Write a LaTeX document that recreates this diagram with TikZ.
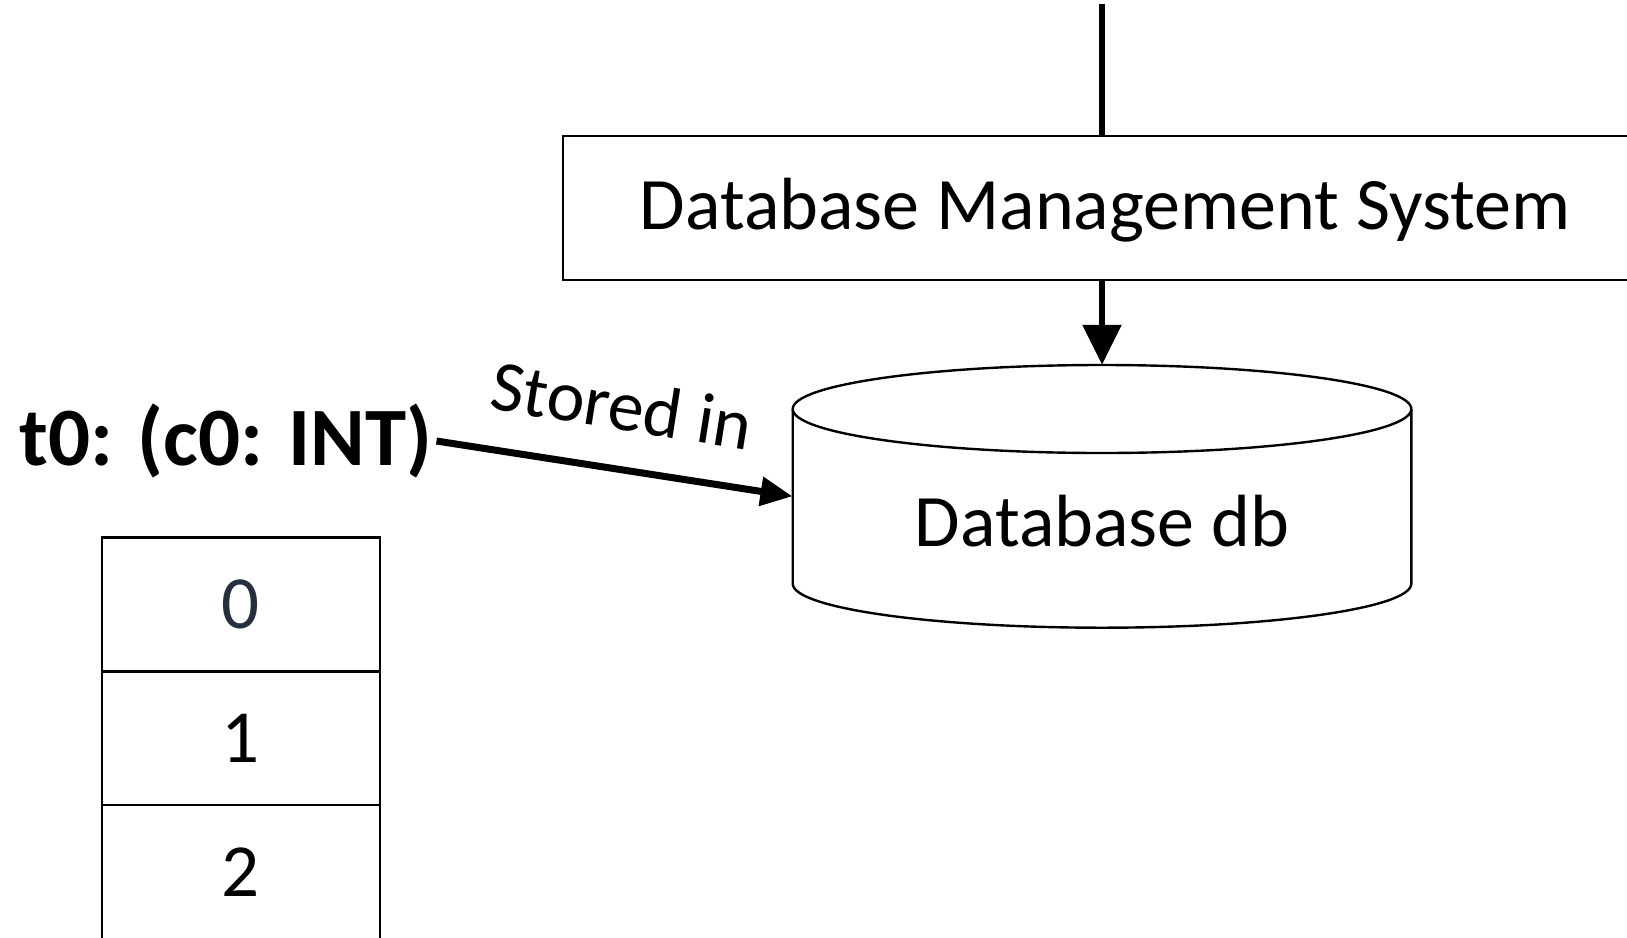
\documentclass[tikz,border=0pt]{standalone}
\usepackage{fontspec}
\setmainfont{Carlito}
\usetikzlibrary{arrows.meta}
\definecolor{digitslate}{RGB}{38,47,61}
\begin{document}
\begin{tikzpicture}[x=1pt,y=-1pt,
  frame/.style={draw, line width=2.4pt, inner sep=0pt},
  cell/.style={frame, minimum width=278pt, minimum height=133.8pt,
    font=\fontsize{75}{90}\selectfont},
  stem/.style={line width=6pt},
  flow/.style={line width=6pt, -{Triangle[length=40pt,width=38pt]}},
  storeflow/.style={line width=7pt, -{Triangle[length=32pt,width=28pt]}},
  label/.style={font=\fontsize{74}{88}\selectfont, inner sep=0pt}]
\useasboundingbox (0,0) rectangle (1627,937);
\clip (0,0) rectangle (1627,937);

% DBMS box (runs past the right edge)
\node[frame, minimum width=1078pt, minimum height=144pt, anchor=north west] (dbms) at (562,135) {};
\node[label] (dbmstext) at (1105,210.6) {Database Management System};

% incoming line from above
\coordinate (topin) at (1102,4);
\draw[stem] (topin) -- (topin |- dbms.north);

% database cylinder
\node[minimum width=618.6pt, minimum height=262.7pt, inner sep=0pt] (db) at (1102,496.3) {};
\draw[line width=2.4pt] (1102,409) ellipse [x radius=309.3, y radius=44];
\draw[line width=2.4pt] (792.7,409) -- (792.7,583.7)
  .. controls (792.7,608) and (931.2,627.7) .. (1102,627.7)
  .. controls (1272.8,627.7) and (1411.3,608) .. (1411.3,583.7) -- (1411.3,409);
\node[label] (dbtext) at (1102,521) {Database db};

\draw[flow] (dbms.south -| db.north) -- (db.north);

% table label and its storage arrow
\node[font=\fontsize{83}{98}\selectfont\bfseries, anchor=west, inner sep=4pt] (tbl) at (15,441) {t0: (c0: INT)};
\draw[storeflow] (tbl.east) -- (db.west);
\node[font=\fontsize{72}{86}\selectfont, rotate=-9, inner sep=0pt] (stored) at (622,405) {Stored in};

% table rows
\node[cell, text=digitslate] (row0) at (240.8,604.4) {0};
\node[cell] (row1) at (240.8,738.2) {1};
\node[cell] (row2) at (240.8,872.1) {2};
\end{tikzpicture}
\end{document}
